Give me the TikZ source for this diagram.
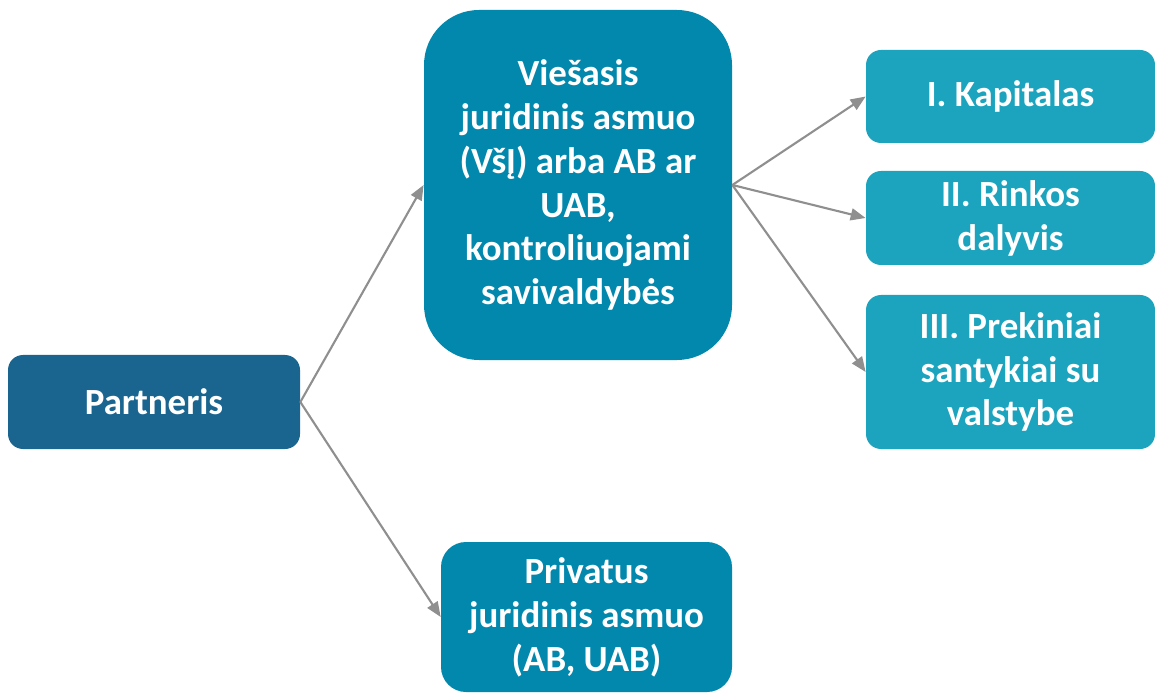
\documentclass[tikz,border=0pt]{standalone}
\usepackage{fontspec}
\setmainfont{Carlito}
\usetikzlibrary{arrows.meta}

\definecolor{darkblue}{HTML}{1A6590}
\definecolor{midblue}{HTML}{0388AD}
\definecolor{lightblue}{HTML}{1CA4BE}
\definecolor{arrowgray}{HTML}{8F8F8F}

\begin{document}
\begin{tikzpicture}[
  box/.style={
    draw=none, text=white, align=center, inner sep=0pt,
    font=\fontsize{21}{25}\selectfont\bfseries,
  },
  partner/.style={
    box, fill=darkblue, rounded corners=0.3cm,
    minimum width=5.84cm, minimum height=1.88cm,
  },
  entity/.style={
    box, fill=midblue,
  },
  criterion/.style={
    box, fill=lightblue, rounded corners=0.3cm,
    minimum width=5.78cm,
  },
  link/.style={
    draw=arrowgray, line width=1.2pt,
    -{Triangle[length=0.3cm, width=0.24cm]}
  }
  ]
  \useasboundingbox (0,0) rectangle (23.1,13.88);

  \node[partner] (partneris) at (3.08,5.84) {Partneris};

  \node[entity, rounded corners=1.1cm, minimum width=6.16cm,
    minimum height=7cm] (viesasis) at (11.56,10.18)
    {Viešasis\\juridinis asmuo\\(VšĮ) arba AB ar\\UAB,\\kontroliuojami\\savivaldybės};
  \node[entity, rounded corners=0.5cm, minimum width=5.82cm,
    minimum height=3cm] (privatus) at (11.73,1.54)
    {Privatus\\juridinis asmuo\\(AB, UAB)};

  \node[criterion, minimum height=1.86cm] (kapitalas) at (20.21,11.95)
    {I. Kapitalas};
  \node[criterion, minimum height=1.88cm] (rinkos) at (20.21,9.52)
    {II. Rinkos\\dalyvis};
  \node[criterion, minimum height=3.08cm] (prekiniai) at (20.21,6.44)
    {III. Prekiniai\\santykiai su\\valstybe};

  \draw[link] (partneris.east) -- (viesasis.west);
  \draw[link] (partneris.east) -- (privatus.west);
  \draw[link] (viesasis.east) -- (kapitalas.west);
  \draw[link] (viesasis.east) -- (rinkos.west);
  \draw[link] (viesasis.east) -- (prekiniai.west);
\end{tikzpicture}
\end{document}
